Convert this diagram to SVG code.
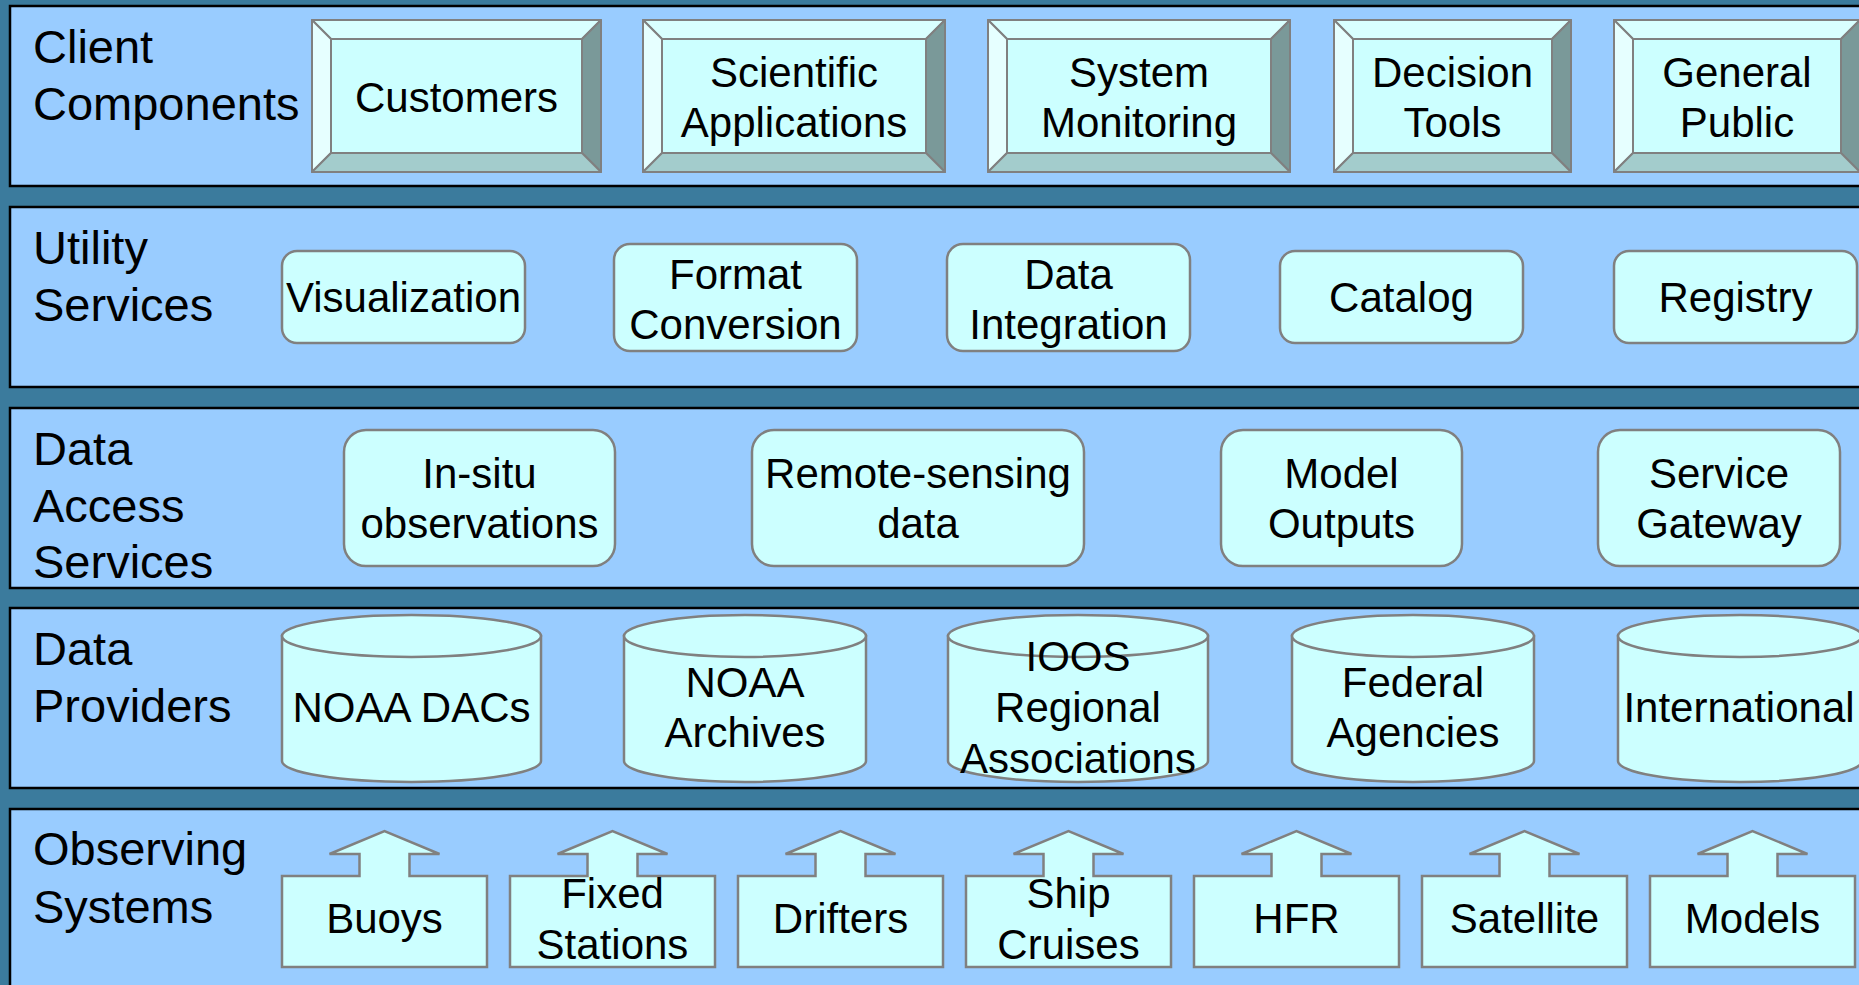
<svg xmlns="http://www.w3.org/2000/svg" width="1859" height="985" viewBox="0 0 1859 985">
<style>
.bg{fill:#3B7B9D}
.panel{fill:#99CCFF;stroke:#000;stroke-width:2.5}
.lbl{font-family:"Liberation Sans",Arial,sans-serif;font-size:47px;fill:#000}
.t{font-family:"Liberation Sans",Arial,sans-serif;font-size:42px;fill:#000;text-anchor:middle}
.face{fill:#CCFFFF;stroke:#808080;stroke-width:2}
.bt{fill:#D9FFFF;stroke:#808080;stroke-width:2;stroke-linejoin:round}
.bl{fill:#E6FFFF;stroke:#808080;stroke-width:2;stroke-linejoin:round}
.br{fill:#7A9999;stroke:#808080;stroke-width:2;stroke-linejoin:round}
.bb{fill:#A3CCCC;stroke:#808080;stroke-width:2;stroke-linejoin:round}
.node{fill:#CCFFFF;stroke:#808080;stroke-width:2.5}
</style>
<defs>
<path id="obs" d="M0 876 H77.5 V854 H47.5 L102.5 831 L157.5 854 H127.5 V876 H205 V967 H0 Z"/>
</defs>
<rect class="bg" x="0" y="0" width="1859" height="985"/>
<g id="panels">
<rect class="panel" x="10" y="6" width="1880" height="180"/>
<rect class="panel" x="10" y="207" width="1880" height="180"/>
<rect class="panel" x="10" y="408" width="1880" height="180"/>
<rect class="panel" x="10" y="608" width="1880" height="180"/>
<rect class="panel" x="10" y="809" width="1880" height="200"/>
</g>
<g id="layer-labels">
<text class="lbl" x="33" y="63">Client</text>
<text class="lbl" x="33" y="120">Components</text>
<text class="lbl" x="33" y="264">Utility</text>
<text class="lbl" x="33" y="321">Services</text>
<text class="lbl" x="33" y="465">Data</text>
<text class="lbl" x="33" y="522">Access</text>
<text class="lbl" x="33" y="578">Services</text>
<text class="lbl" x="33" y="665">Data</text>
<text class="lbl" x="33" y="722">Providers</text>
<text class="lbl" x="33" y="865">Observing</text>
<text class="lbl" x="33" y="923">Systems</text>
</g>
<g id="customers" transform="translate(312,20)">
<path class="bt" d="M0 0 H289 L270 19 H19 Z"/><path class="bl" d="M0 0 L19 19 V133 L0 152 Z"/><path class="br" d="M289 0 V152 L270 133 V19 Z"/><path class="bb" d="M0 152 L19 133 H270 L289 152 Z"/><rect class="face" x="19" y="19" width="251" height="114"/>
<text class="t" x="144.5" y="92">Customers</text>
</g>
<g id="scientific-applications" transform="translate(643,20)">
<path class="bt" d="M0 0 H302 L283 19 H19 Z"/><path class="bl" d="M0 0 L19 19 V133 L0 152 Z"/><path class="br" d="M302 0 V152 L283 133 V19 Z"/><path class="bb" d="M0 152 L19 133 H283 L302 152 Z"/><rect class="face" x="19" y="19" width="264" height="114"/>
<text class="t" x="151" y="67">Scientific</text><text class="t" x="151" y="117">Applications</text>
</g>
<g id="system-monitoring" transform="translate(988,20)">
<path class="bt" d="M0 0 H302 L283 19 H19 Z"/><path class="bl" d="M0 0 L19 19 V133 L0 152 Z"/><path class="br" d="M302 0 V152 L283 133 V19 Z"/><path class="bb" d="M0 152 L19 133 H283 L302 152 Z"/><rect class="face" x="19" y="19" width="264" height="114"/>
<text class="t" x="151" y="67">System</text><text class="t" x="151" y="117">Monitoring</text>
</g>
<g id="decision-tools" transform="translate(1334,20)">
<path class="bt" d="M0 0 H237 L218 19 H19 Z"/><path class="bl" d="M0 0 L19 19 V133 L0 152 Z"/><path class="br" d="M237 0 V152 L218 133 V19 Z"/><path class="bb" d="M0 152 L19 133 H218 L237 152 Z"/><rect class="face" x="19" y="19" width="199" height="114"/>
<text class="t" x="118.5" y="67">Decision</text><text class="t" x="118.5" y="117">Tools</text>
</g>
<g id="general-public" transform="translate(1614,20)">
<path class="bt" d="M0 0 H246 L227 19 H19 Z"/><path class="bl" d="M0 0 L19 19 V133 L0 152 Z"/><path class="br" d="M246 0 V152 L227 133 V19 Z"/><path class="bb" d="M0 152 L19 133 H227 L246 152 Z"/><rect class="face" x="19" y="19" width="208" height="114"/>
<text class="t" x="123" y="67">General</text><text class="t" x="123" y="117">Public</text>
</g>
<g id="visualization"><rect class="node" x="282" y="251" width="243" height="92" rx="15"/><text class="t" x="403.5" y="312">Visualization</text></g>
<g id="format-conversion"><rect class="node" x="614" y="244" width="243" height="107" rx="16"/><text class="t" x="735.5" y="289">Format</text><text class="t" x="735.5" y="339">Conversion</text></g>
<g id="data-integration"><rect class="node" x="947" y="244" width="243" height="107" rx="16"/><text class="t" x="1068.5" y="289">Data</text><text class="t" x="1068.5" y="339">Integration</text></g>
<g id="catalog"><rect class="node" x="1280" y="251" width="243" height="92" rx="15"/><text class="t" x="1401.5" y="312">Catalog</text></g>
<g id="registry"><rect class="node" x="1614" y="251" width="243" height="92" rx="15"/><text class="t" x="1735.5" y="312">Registry</text></g>
<g id="in-situ"><rect class="node" x="344" y="430" width="271" height="136" rx="22"/><text class="t" x="479.5" y="488">In-situ</text><text class="t" x="479.5" y="538">observations</text></g>
<g id="remote-sensing"><rect class="node" x="752" y="430" width="332" height="136" rx="22"/><text class="t" x="918" y="488">Remote-sensing</text><text class="t" x="918" y="538">data</text></g>
<g id="model-outputs"><rect class="node" x="1221" y="430" width="241" height="136" rx="22"/><text class="t" x="1341.5" y="488">Model</text><text class="t" x="1341.5" y="538">Outputs</text></g>
<g id="service-gateway"><rect class="node" x="1598" y="430" width="242" height="136" rx="22"/><text class="t" x="1719" y="488">Service</text><text class="t" x="1719" y="538">Gateway</text></g>
<g id="noaa-dacs"><path class="node" d="M282 636 V761 A129.5 21 0 0 0 541 761 V636 Z"/><ellipse class="node" cx="411.5" cy="636" rx="129.5" ry="21"/><text class="t" x="411.5" y="722">NOAA DACs</text></g>
<g id="noaa-archives"><path class="node" d="M624 636 V761 A121 21 0 0 0 866 761 V636 Z"/><ellipse class="node" cx="745" cy="636" rx="121" ry="21"/><text class="t" x="745" y="697">NOAA</text><text class="t" x="745" y="747">Archives</text></g>
<g id="ioos-ras"><path class="node" d="M948 636 V761 A130 21 0 0 0 1208 761 V636 Z"/><ellipse class="node" cx="1078" cy="636" rx="130" ry="21"/><text class="t" x="1078" y="671">IOOS</text><text class="t" x="1078" y="722">Regional</text><text class="t" x="1078" y="773">Associations</text></g>
<g id="federal-agencies"><path class="node" d="M1292 636 V761 A121 21 0 0 0 1534 761 V636 Z"/><ellipse class="node" cx="1413" cy="636" rx="121" ry="21"/><text class="t" x="1413" y="697">Federal</text><text class="t" x="1413" y="747">Agencies</text></g>
<g id="international"><path class="node" d="M1618 636 V761 A122 21 0 0 0 1862 761 V636 Z"/><ellipse class="node" cx="1740" cy="636" rx="122" ry="21"/><text class="t" x="1739" y="722">International</text></g>
<g id="buoys"><use href="#obs" class="node" transform="translate(282,0)"/><text class="t" x="384.5" y="933">Buoys</text></g>
<g id="fixed-stations"><use href="#obs" class="node" transform="translate(510,0)"/><text class="t" x="612.5" y="908">Fixed</text><text class="t" x="612.5" y="959">Stations</text></g>
<g id="drifters"><use href="#obs" class="node" transform="translate(738,0)"/><text class="t" x="840.5" y="933">Drifters</text></g>
<g id="ship-cruises"><use href="#obs" class="node" transform="translate(966,0)"/><text class="t" x="1068.5" y="908">Ship</text><text class="t" x="1068.5" y="959">Cruises</text></g>
<g id="hfr"><use href="#obs" class="node" transform="translate(1194,0)"/><text class="t" x="1296.5" y="933">HFR</text></g>
<g id="satellite"><use href="#obs" class="node" transform="translate(1422,0)"/><text class="t" x="1524.5" y="933">Satellite</text></g>
<g id="models"><use href="#obs" class="node" transform="translate(1650,0)"/><text class="t" x="1752.5" y="933">Models</text></g>
<g id="connectors"></g>
</svg>
